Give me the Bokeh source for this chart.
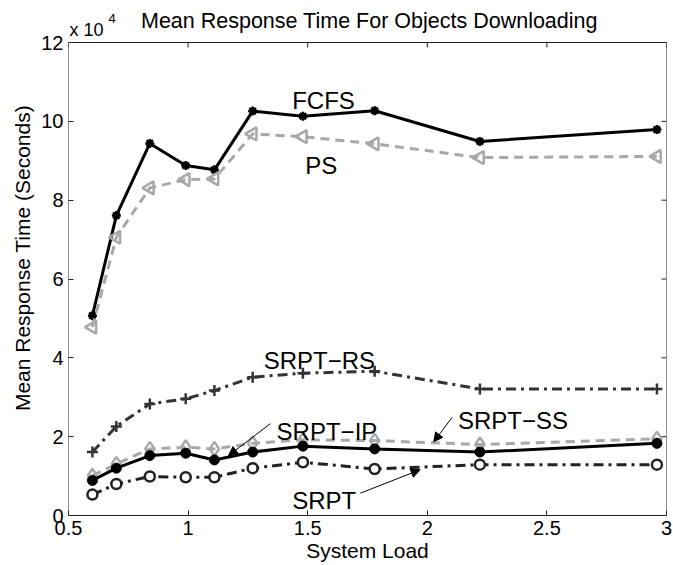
import numpy as np
from bokeh.plotting import figure
from bokeh.models import (Label, Arrow, NormalHead, Range1d, Title)
from bokeh.embed import file_html
from bokeh.resources import INLINE

# ---- data (response time in units of 1e4 seconds) ----
load = [0.60, 0.70, 0.84, 0.99, 1.11, 1.27, 1.48, 1.78, 2.22, 2.96]
fcfs = [5.07, 7.61, 9.44, 8.88, 8.77, 10.26, 10.13, 10.27, 9.49, 9.79]
ps = [4.78, 7.06, 8.31, 8.52, 8.54, 9.68, 9.61, 9.43, 9.08, 9.11]
srpt_rs = [1.61, 2.26, 2.83, 2.96, 3.17, 3.51, 3.61, 3.66, 3.21, 3.21]
srpt_ss = [1.01, 1.31, 1.69, 1.73, 1.69, 1.83, 1.92, 1.90, 1.80, 1.95]
srpt_ip = [0.89, 1.20, 1.52, 1.58, 1.41, 1.61, 1.76, 1.69, 1.61, 1.83]
srpt = [0.53, 0.80, 0.99, 0.97, 0.97, 1.20, 1.35, 1.18, 1.29, 1.29]

x_ticks = [0.5, 1.0, 1.5, 2.0, 2.5, 3.0]
y_ticks = [0, 2, 4, 6, 8, 10, 12]

FONT = "Liberation Sans"
X0, X1, Y0, Y1 = 0.5, 3.0, 0, 12
AX_TOP_PX, AX_BOT_PX = 42, 515          # axes box inside the canvas
Y_TOP = Y1 * AX_BOT_PX / (AX_BOT_PX - AX_TOP_PX)   # frame reaches canvas top

p = figure(width=673, height=565, output_backend="svg", toolbar_location=None,
           x_range=Range1d(X0, X1), y_range=Range1d(Y0, Y_TOP),
           min_border_left=68, min_border_right=7, min_border_top=0,
           min_border_bottom=50)
p.grid.visible = False
p.outline_line_color = None

p.xaxis.ticker = x_ticks
p.yaxis.ticker = y_ticks
p.xaxis.axis_label = "System Load"
for ax in list(p.xaxis) + list(p.yaxis):
    ax.major_tick_in = 5
    ax.major_tick_out = 0
    ax.minor_tick_line_color = None
    ax.axis_line_color = "#222222"
    ax.major_tick_line_color = "#222222"
    ax.major_label_text_font = FONT
    ax.major_label_text_font_size = "20px"
    ax.major_label_text_color = "black"
    ax.axis_label_text_font = FONT
    ax.axis_label_text_font_size = "21px"
    ax.axis_label_text_font_style = "normal"
    ax.axis_label_text_color = "black"
p.yaxis.axis_line_color = None
p.xaxis.major_label_standoff = 5
p.xaxis.axis_label_standoff = 1
p.yaxis.major_label_standoff = 5

# y axis title, centred on the axes box (which is 42 px shorter than the frame)
p.add_layout(Title(text="Mean Response Time (Seconds)", text_font=FONT,
                   text_font_size="21px", text_font_style="normal",
                   text_color="black", align="center", offset=-25, standoff=9),
             "left")

# axes box and mirrored inward ticks (5 px long)
px_per_y = (AX_BOT_PX - AX_TOP_PX) / (Y1 - Y0)
tick_len_y = 5 / px_per_y
tick_len_x = 5 * (X1 - X0) / 598
p.segment(x0=[X0, X1, X0], y0=[Y0, Y0, Y1], x1=[X0, X1, X1], y1=[Y1, Y1, Y1],
          line_color="#222222", line_width=1)
p.segment(x0=x_ticks, y0=[Y1] * len(x_ticks), x1=x_ticks,
          y1=[Y1 - tick_len_y] * len(x_ticks), line_color="#222222", line_width=1)
p.segment(x0=[X1] * len(y_ticks), y0=y_ticks, x1=[X1 - tick_len_x] * len(y_ticks),
          y1=y_ticks, line_color="#222222", line_width=1)

# ---- series ----
gray = "#a8a8a8"
dk = "#333333"
p.line(load, fcfs, line_color="black", line_width=3)
p.scatter(load, fcfs, marker="asterisk", size=9, line_color="black", line_width=2.5)
p.line(load, ps, line_color=gray, line_width=3, line_dash="9 6")
p.scatter(load, ps, marker="triangle", angle=np.pi / 2, size=13,
          line_color=gray, fill_alpha=0, line_width=2.5)
p.line(load, srpt_rs, line_color=dk, line_width=3, line_dash="10 5 3 5")
p.scatter(load, srpt_rs, marker="cross", size=11, line_color=dk, line_width=2.5)
p.line(load, srpt_ss, line_color=gray, line_width=3, line_dash="9 6")
p.scatter(load, srpt_ss, marker="diamond", size=14, line_color=gray,
          fill_alpha=0, line_width=2.5)
p.line(load, srpt_ip, line_color="black", line_width=3)
p.scatter(load, srpt_ip, marker="circle", size=10, line_color="black",
          fill_color="black")
p.line(load, srpt, line_color="#222222", line_width=3, line_dash="10 5 3 5")
p.scatter(load, srpt, marker="circle", size=10, line_color="#222222",
          fill_color="white", line_width=2.5)

# ---- labels ----
def lab(x, y, t, size="24px", **kw):
    p.add_layout(Label(x=x, y=y, text=t, text_font=FONT, text_font_size=size,
                       text_baseline="alphabetic", text_color="black", **kw))

lab(1.435, 10.53, "FCFS")
lab(1.49, 8.88, "PS")
lab(1.316, 3.93, "SRPT\u2212RS")
lab(1.37, 2.14, "SRPT\u2212IP")
lab(2.128, 2.41, "SRPT\u2212SS")
lab(1.435, 0.38, "SRPT")

lab(1.758, Y1, "Mean Response Time For Objects Downloading", size="21.5px",
    text_align="center", y_offset=22)
lab(X0, Y1, "x 10", size="18px", x_offset=1, y_offset=13)
lab(0.667, Y1, "4", size="13px", y_offset=24)

# ---- arrows ----
for (x0, y0, x1, y1) in [(1.344, 2.33, 1.169, 1.52),
                         (2.104, 2.49, 2.027, 1.87),
                         (1.72, 0.566, 1.97, 1.16)]:
    p.add_layout(Arrow(end=NormalHead(size=9, fill_color="black",
                                      line_color="black", line_width=1),
                       x_start=x0, y_start=y0, x_end=x1, y_end=y1,
                       line_color="black", line_width=1))

open("out.html", "w").write(file_html(p, INLINE))
